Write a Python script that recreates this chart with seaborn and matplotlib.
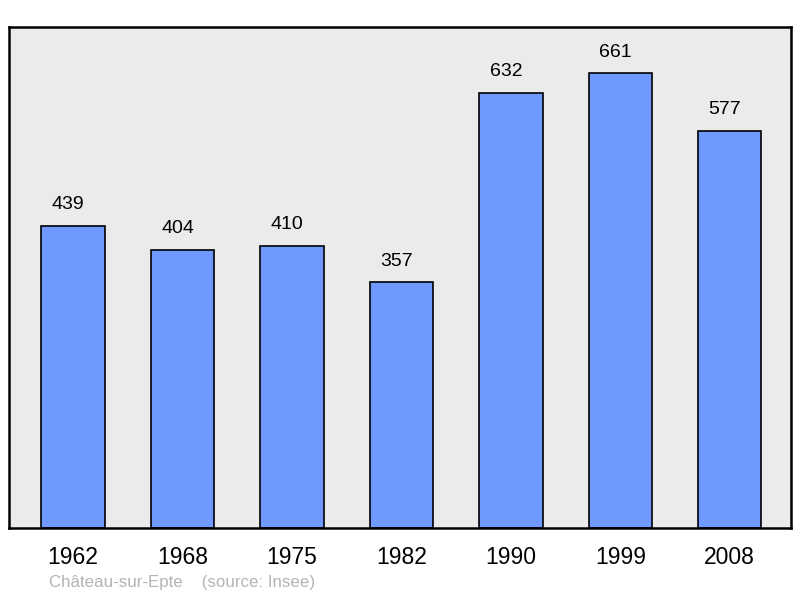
import pandas as pd
import seaborn as sns
import matplotlib.pyplot as plt

# Data
years = ["1962", "1968", "1975", "1982", "1990", "1999", "2008"]
population = [439, 404, 410, 357, 632, 661, 577]

df = pd.DataFrame({"year": years, "population": population})

sns.set_theme(style="white")
plt.rcParams['font.family'] = ['Liberation Sans', 'DejaVu Sans']

fig = plt.figure(figsize=(8, 5.98), dpi=100)
ax = fig.add_axes([0.01125, 0.117, 0.9775, 0.838])

sns.barplot(
    data=df,
    x="year",
    y="population",
    color="#7099ff",
    saturation=1,
    width=0.58,
    edgecolor="black",
    linewidth=1.2,
    ax=ax
)

ax.set_facecolor("#ebebeb")
ax.set_xlim(-0.585, 6.56)
ax.set_ylim(0, 728)

for i, v in enumerate(population):
    ax.annotate(
        str(v),
        xy=(i, v),
        xytext=(-3.5, 9),
        textcoords="offset points",
        ha="center",
        va="bottom",
        fontsize=14,
        color="black"
    )

ax.set_yticks([])
ax.set_xlabel("")
ax.set_ylabel("")
ax.tick_params(axis="x", length=0, pad=13, labelsize=16.5, colors="black")

for side in ax.spines.values():
    side.set_visible(True)
    side.set_color("black")
    side.set_linewidth(1.8)

fig.text(
    49 / 800, 1 - 583 / 598,
    "Château-sur-Epte    (source: Insee)",
    color="#b4b4b4",
    fontsize=12.2,
    ha="left",
    va="center"
)

plt.savefig("out.png", dpi=100, facecolor="white")
plt.close()
